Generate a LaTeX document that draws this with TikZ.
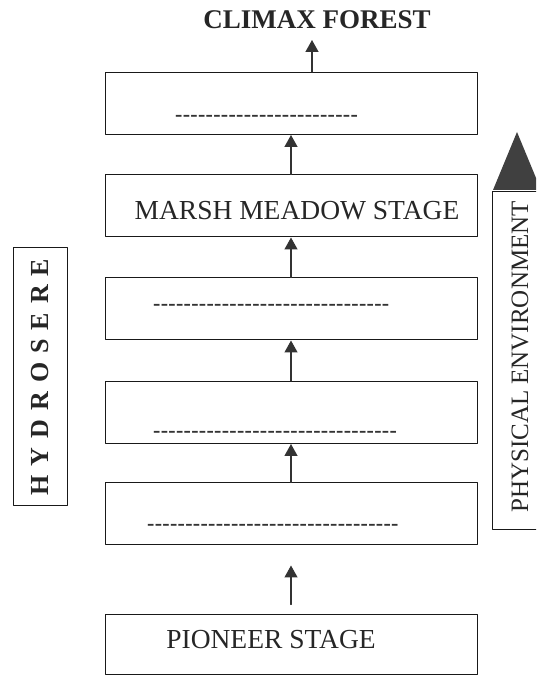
\documentclass[tikz,border=0pt]{standalone}
\usepackage{fontspec}
\setmainfont{Liberation Serif}
\usepackage{tikz}
\usetikzlibrary{arrows.meta}

\newcommand{\dashrow}[1]{\foreach \k in {1,...,#1}{-\kern0.3pt}}

\begin{document}
\begin{tikzpicture}[x=1pt,y=1pt,>={Triangle[width=13pt,length=12pt]},line cap=round,line join=round,
    stagebox/.style={draw=black!90,line width=1pt,minimum width=372pt,minimum height=62pt,inner sep=0pt},
    stagetext/.style={font=\fontsize{27.5}{30}\selectfont,text=black!85,inner sep=0pt},
    dashtext/.style={font=\bfseries\fontsize{22}{24}\selectfont,text=black!80,inner sep=0pt,anchor=base west},
    stagearrow/.style={->,line width=1.3pt,draw=black!80}]
            \useasboundingbox (0,0) rectangle (536,677);
            \clip (0,0) rectangle (536,677);

            % stages of the sere
            \node[stagebox] (box1) at (291,573.5) {};
            \node[stagebox] (box2) at (291,471) {};
            \node[stagebox] (box3) at (291,368) {};
            \node[stagebox] (box4) at (291,264.5) {};
            \node[stagebox] (box5) at (291,163) {};
            \node[stagebox,minimum height=60pt] (pioneer) at (291,32) {};

            \node[stagetext] (marsh) at (297,466) {MARSH MEADOW STAGE};
            \node[stagetext] (pioneertxt) at (271,37) {PIONEER STAGE};

            \node[dashtext] (dash1) at (175,555) {\dashrow{24}};
            \node[dashtext] (dash3) at (153,366) {\dashrow{31}};
            \node[dashtext] (dash4) at (153,239) {\dashrow{32}};
            \node[dashtext] (dash5) at (147,146) {\dashrow{33}};

            \node[font=\bfseries\fontsize{27}{30}\selectfont,text=black!85] (climax) at (317,657) {CLIMAX FOREST};
            \coordinate (climaxtip) at (312,637);

            \draw[stagearrow] (box1.north -| climaxtip) -- (climaxtip);
            \foreach \lo/\hi in {box2/box1,box3/box2,box4/box3,box5/box4}
                \draw[stagearrow] (\lo.north) -- (\hi.south);
            \draw[stagearrow,shorten <=10pt,shorten >=20pt] (pioneer.north) -- (box5.south);

            % side labels
            \node[draw=black!90,line width=1pt,rotate=90,minimum width=258pt,minimum height=54pt,inner sep=0pt,
                font=\bfseries\fontsize{26}{30}\selectfont,text=black!85] (hydro) at (40,300)
                {\spaceskip=9pt H Y D R O S E R E};

            \fill[black!75] (493,487) -- (517,545) -- (541,487) -- cycle;
            \draw[line width=1pt,black!90] (540,147) -- (492,147) -- (492,485) -- (540,485);
            \node[rotate=90,font=\fontsize{25}{28}\selectfont,text=black!85] (physenv) at (520,320) {PHYSICAL ENVIRONMENT};
        \end{tikzpicture}
\end{document}
